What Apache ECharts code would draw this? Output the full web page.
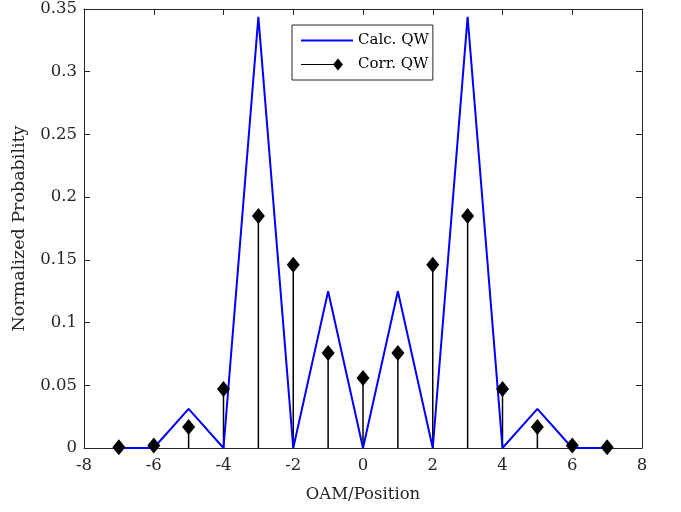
<!DOCTYPE html>
<html><head><meta charset="utf-8">
<script src="https://cdn.jsdelivr.net/npm/echarts@6/dist/echarts.min.js"></script>
<style>html,body{margin:0;padding:0;background:#fff}#c{width:681px;height:512px}</style>
</head><body><div id="c"></div>
<script>
const positions = [-7,-6,-5,-4,-3,-2,-1,0,1,2,3,4,5,6,7];
const calcQW = [0,0,0.03125,0,0.34375,0,0.125,0,0.125,0,0.34375,0,0.03125,0,0];
const corrQW = [0.0005,0.002,0.0167,0.047,0.185,0.146,0.0757,0.0558,0.0757,0.146,0.185,0.047,0.0167,0.002,0.0005];
const xTicks = [-8,-6,-4,-2,0,2,4,6,8];
const yTicks = [0,0.05,0.1,0.15,0.2,0.25,0.3,0.35];

const FONT = 'DejaVu Serif';
const TXT = '#262626';
const calcData = positions.map((p,i)=>[p,calcQW[i]]);
const corrData = positions.map((p,i)=>[p,corrQW[i]]);

const axisCommon = {
  axisLine:{show:true,onZero:false,lineStyle:{color:TXT,width:1}},
  axisTick:{show:true,inside:true,length:6,lineStyle:{color:TXT}},
  splitLine:{show:false}
};
const chart = echarts.init(document.getElementById('c'));
chart.setOption({
  animation:false,
  grid:{left:84,right:39,top:9,bottom:64,containLabel:false},
  xAxis:[
    Object.assign({type:'value',min:xTicks[0],max:xTicks[xTicks.length-1],interval:2,position:'bottom',
      name:'OAM/Position',nameLocation:'middle',nameGap:38,
      nameTextStyle:{fontFamily:FONT,fontSize:16.5,color:TXT},
      axisLabel:{fontFamily:FONT,fontSize:16.5,color:TXT,margin:9}},axisCommon),
    Object.assign({type:'value',min:xTicks[0],max:xTicks[xTicks.length-1],interval:2,position:'top',
      axisLabel:{show:false}},axisCommon)
  ],
  yAxis:[
    Object.assign({type:'value',min:yTicks[0],max:yTicks[yTicks.length-1],interval:0.05,position:'left',
      name:'Normalized Probability',nameLocation:'middle',nameGap:56,
      nameTextStyle:{fontFamily:FONT,fontSize:17.5,color:TXT},
      axisLabel:{fontFamily:FONT,fontSize:16.5,color:TXT,margin:7}},axisCommon),
    Object.assign({type:'value',min:yTicks[0],max:yTicks[yTicks.length-1],interval:0.05,position:'right',
      axisLabel:{show:false}},axisCommon)
  ],
  legend:{
    left:292,top:25,orient:'vertical',
    backgroundColor:'#fff',borderColor:TXT,borderWidth:1,borderRadius:0,
    padding:[8,4,8,9],itemGap:9,itemWidth:52,itemHeight:14,
    textStyle:{fontFamily:FONT,fontSize:15,color:'#000'},
    data:[
      {name:'Calc. QW',icon:'path://M0,0 H52 V2 H0 Z',itemStyle:{color:'#0000ff'}},
      {name:'Corr. QW',icon:'path://M0,6.4 H37 V7.6 H0 Z M37,1 L42,7 L37,13 L32,7 Z M52,0 L52,0.01 L51.99,0 Z M0,14 L0.01,14 L0,13.99 Z',itemStyle:{color:'#000'}}
    ]
  },
  series:[
    {name:'Calc. QW',type:'line',data:calcData,symbol:'none',
      lineStyle:{color:'#0000ff',width:2},itemStyle:{color:'#0000ff'},z:3},
    {name:'Corr. QW',type:'custom',data:corrData,z:2,
      itemStyle:{color:'#000'},
      renderItem:function(params,api){
        const top = api.coord([api.value(0),api.value(1)]);
        const bot = api.coord([api.value(0),0]);
        return {type:'line',shape:{x1:top[0],y1:top[1],x2:bot[0],y2:bot[1]},
          style:{stroke:'#000',lineWidth:1.5}};
      }},
    {name:'Corr. QW',type:'scatter',data:corrData,symbol:'diamond',symbolSize:[13,16],
      itemStyle:{color:'#000',opacity:1},z:4}
  ]
});
</script></body></html>
